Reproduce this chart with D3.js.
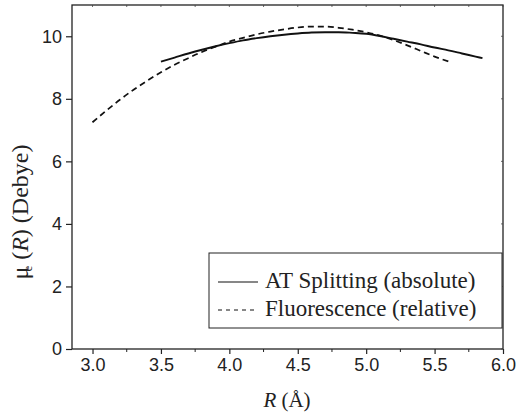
<!DOCTYPE html>
<html><head><meta charset="utf-8">
<script src="https://cdn.jsdelivr.net/npm/d3@7"></script>
<style>body{margin:0;background:#fff}svg{display:block}
.sans{font-family:"Liberation Sans",Arial,Helvetica,sans-serif}
.serif{font-family:"Liberation Serif","Times New Roman",Times,serif}</style>
</head><body>
<svg id="c" width="523" height="415"></svg>
<script>
const atR = [3.5,3.6,3.7,3.8,3.9,4.0,4.1,4.2,4.3,4.4,4.5,4.6,4.7,4.8,4.9,5.0,5.1,5.2,5.3,5.4,5.5,5.6,5.7,5.8,5.85];
const atMu = [9.19,9.32,9.45,9.57,9.68,9.78,9.87,9.94,10.0,10.05,10.09,10.12,10.13,10.13,10.11,10.08,10.01,9.92,9.83,9.74,9.64,9.55,9.45,9.35,9.30];
const flR = [3.0,3.1,3.2,3.3,3.4,3.5,3.6,3.7,3.8,3.9,4.0,4.1,4.2,4.3,4.4,4.5,4.6,4.7,4.8,4.9,5.0,5.1,5.2,5.3,5.4,5.5,5.62];
const flMu = [7.25,7.62,7.97,8.29,8.58,8.85,9.09,9.30,9.50,9.67,9.83,9.95,10.06,10.15,10.22,10.28,10.31,10.31,10.27,10.21,10.13,10.02,9.88,9.71,9.53,9.35,9.17];
const xTicks = [3.0,3.5,4.0,4.5,5.0,5.5,6.0];
const yTicks = [0,2,4,6,8,10];
const seriesNames = ["AT Splitting (absolute)","Fluorescence (relative)"];

const svg = d3.select("#c");
const L=72, R=503, T=5, B=349;
const x = d3.scaleLinear().domain([2.85,6.0]).range([L,R]);
const y = d3.scaleLinear().domain([0,11]).range([B,T]);

// frame
svg.append("rect").attr("x",L).attr("y",T).attr("width",R-L).attr("height",B-T)
  .attr("fill","none").attr("stroke","#222").attr("stroke-width",1.3);

// bottom axis
const minorX = d3.range(2.75,6.01,0.25).filter(v=>v>=2.85 && Math.abs(v*2-Math.round(v*2))>1e-6);
const gx = svg.append("g").attr("transform",`translate(0,${B})`)
  .call(d3.axisBottom(x).tickValues(xTicks).tickFormat(d3.format(".1f")).tickSize(5).tickPadding(4));
gx.select(".domain").remove();
gx.selectAll("line").attr("stroke","#222").attr("stroke-width",1.2);
gx.selectAll("text").attr("class","sans").attr("font-family",null).attr("font-size",18).attr("fill","#222");
svg.append("g").selectAll("line").data(minorX).join("line")
  .attr("x1",d=>x(d)).attr("x2",d=>x(d)).attr("y1",B).attr("y2",B+3).attr("stroke","#222");
// top ticks
svg.append("g").selectAll("line").data(xTicks.concat(minorX)).join("line")
  .attr("x1",d=>x(d)).attr("x2",d=>x(d)).attr("y1",T).attr("y2",T+2).attr("stroke","#444").attr("stroke-width",0.8);

// left axis
const gy = svg.append("g").attr("transform",`translate(${L},0)`)
  .call(d3.axisLeft(y).tickValues(yTicks).tickFormat(d3.format("d")).tickSize(6).tickPadding(4));
gy.select(".domain").remove();
gy.selectAll("line").attr("stroke","#222").attr("stroke-width",1.2);
gy.selectAll("text").attr("class","sans").attr("font-size",18).attr("fill","#222");
gx.attr("font-family",null); gy.attr("font-family",null);
// right ticks
svg.append("g").selectAll("line").data(yTicks).join("line")
  .attr("x1",R).attr("x2",R-2).attr("y1",d=>y(d)).attr("y2",d=>y(d)).attr("stroke","#444").attr("stroke-width",0.8);

// lines
const line = d3.line().x(d=>x(d[0])).y(d=>y(d[1])).curve(d3.curveMonotoneX);
svg.append("path").datum(atR.map((r,i)=>[r,atMu[i]])).attr("d",line)
  .attr("fill","none").attr("stroke","#111").attr("stroke-width",1.9);
svg.append("path").datum(flR.map((r,i)=>[r,flMu[i]])).attr("d",line)
  .attr("fill","none").attr("stroke","#111").attr("stroke-width",1.7).attr("stroke-dasharray","6,4");

// legend
const lg = svg.append("g");
lg.append("rect").attr("x",209).attr("y",253).attr("width",502-209).attr("height",328-253)
  .attr("fill","#fff").attr("stroke","#222").attr("stroke-width",1);
const rows = [{y:282,dash:null},{y:310,dash:"4,4"}];
rows.forEach((r,i)=>{
  lg.append("line").attr("x1",218).attr("x2",258).attr("y1",r.y).attr("y2",r.y)
    .attr("stroke","#111").attr("stroke-width",1.1).attr("stroke-dasharray",r.dash);
  lg.append("text").attr("class","serif").attr("x",265).attr("y",r.y+6).attr("font-size",23)
    .attr("fill","#222").text(seriesNames[i]);
});

// axis titles
const xt = svg.append("text").attr("class","serif").attr("x",287).attr("y",407).attr("text-anchor","middle")
  .attr("font-size",21).attr("fill","#222");
xt.append("tspan").attr("font-style","italic").text("R");
xt.append("tspan").text(" (Å)");

const yt = svg.append("text").attr("class","serif").attr("transform","translate(28,212) rotate(-90)").attr("text-anchor","middle")
  .attr("font-size",24).attr("fill","#222");
yt.append("tspan").text("μ");
yt.append("tspan").attr("font-size",13).attr("dy",4).attr("dx",-5).text("e");
yt.append("tspan").attr("dy",-4).text(" (");
yt.append("tspan").attr("font-style","italic").text("R");
yt.append("tspan").text(") (Debye)");
</script>
</body></html>
